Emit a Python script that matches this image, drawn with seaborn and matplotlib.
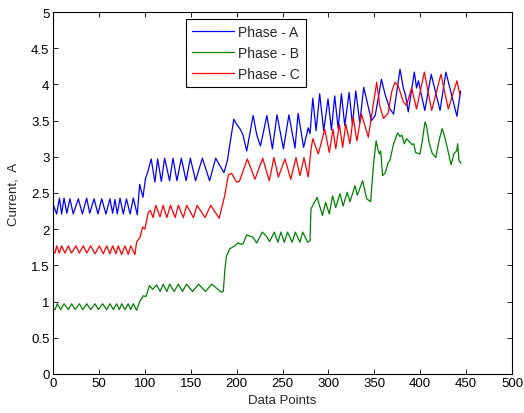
import matplotlib
matplotlib.use("Agg")
import matplotlib.pyplot as plt
import pandas as pd
import seaborn as sns

# ---- data (data point index, current in A) ----
phase_a = [(0,2.35),(4,2.21),(7,2.43),(9.4,2.21),(12,2.43),(15,2.22),(18.5,2.42),(22,2.21),
           (27.6,2.42),(32,2.21),(36.7,2.43),(40,2.22),(44.7,2.42),(49,2.21),(53,2.42),(57.7,2.21),
           (62,2.42),(65,2.22),(67.5,2.41),(70,2.21),(73,2.43),(76.6,2.21),(80,2.42),(84,2.21),
           (87.5,2.43),(91.8,2.2),(94.4,2.62),(98,2.44),(100.7,2.7),(103,2.78),(107,2.97),(111,2.65),
           (114,2.97),(118,2.66),(121.6,2.98),(127,2.67),(130.7,2.98),(135,2.67),(139.8,2.98),(145,2.67),
           (149.6,2.98),(155.3,2.67),(162.7,2.98),(170.6,2.67),(177.2,2.98),(186.2,2.78),(190,2.95),
           (193,3.2),(197,3.52),(200,3.45),(204,3.38),(207,3.3),(211,3.08),(218,3.57),(222,3.3),
           (226,3.15),(233,3.57),(239,3.11),(244,3.58),(251,3.11),(257,3.58),(263.6,3.12),(267,3.6),
           (273,3.13),(278,3.4),(280,3.32),(283,3.81),(286.6,3.36),(290.5,3.87),(294.9,3.36),(299.6,3.8),
           (303.3,3.37),(306.9,3.84),(310.6,3.39),(314.2,3.87),(317.8,3.43),(322.6,3.89),(326.2,3.44),
           (329.8,3.91),(334.2,3.47),(338.5,3.96),(346.9,3.5),(351,3.57),(357.8,4.07),(362,3.85),
           (367,3.66),(371,3.59),(378,4.21),(381.6,3.95),(384,3.85),(387,3.62),(393.6,4.17),(396,3.95),
           (398,4.05),(405,3.64),(412,4.14),(421.6,3.64),(428,4.17),(440,3.56),(444,3.91)]

phase_b = [(0,0.9),(2.2,0.89),(4.7,0.97),(8.3,0.89),(12,0.97),(16.7,0.89),(20.3,0.97),(24,0.89),
           (28.7,0.97),(32.3,0.89),(36.7,0.97),(41,0.89),(45.8,0.97),(49.4,0.89),(54,0.97),(58.5,0.89),
           (62,0.97),(65.7,0.89),(69.3,0.97),(72.3,0.89),(74.8,0.97),(78.4,0.89),(82,0.97),(84.6,0.89),
           (87.5,0.97),(91,0.88),(94.8,1.01),(98.4,1.08),(101.3,1.07),(105,1.22),(108.6,1.17),(113,1.23),
           (116.6,1.14),(120,1.24),(124,1.14),(127,1.24),(132,1.14),(136.5,1.24),(141,1.14),(145.5,1.24),
           (152,1.14),(158.6,1.24),(166,1.14),(173,1.24),(183.3,1.13),(185.5,1.14),(187.3,1.45),
           (189,1.63),(192.6,1.73),(198,1.77),(201.6,1.81),(205,1.79),(207,1.8),(211,1.92),(217.6,1.89),
           (222,1.81),(228,1.96),(232,1.91),(236,1.83),(241,1.96),(245,1.82),(248.3,1.96),(252,1.82),
           (255.5,1.96),(260.5,1.82),(264,1.96),(269,1.82),(272,1.96),(277.5,1.82),(280,1.84),(281,2.28),
           (287.7,2.44),(293.5,2.19),(297,2.37),(301,2.21),(304.5,2.46),(308,2.3),(312.6,2.49),(316,2.32),
           (320.5,2.51),(323.5,2.38),(329,2.6),(331.5,2.47),(337.3,2.67),(341.7,2.42),(346,2.38),
           (349,2.88),(352,3.22),(354,3.1),(355.5,3.04),(357,3.08),(359,2.74),(362,2.78),(365,2.92),
           (367,2.95),(371,3.18),(375.4,3.33),(378,3.28),(380,3.3),(382.7,3.18),(385.3,3.25),(388,3.21),
           (390.7,3.17),(393,3.18),(395,3.06),(399.8,3.04),(402,3.2),(405.2,3.48),(407,3.42),(409.6,3.2),
           (413,3.05),(417,2.99),(421,3.25),(424,3.39),(427,3.26),(430,3.1),(433.6,2.89),(437,3.05),
           (439.7,3.08),(440.8,3.18),(442.3,2.95),(444.4,2.91)]

phase_c = [(0,1.70),(2.2,1.67),(4,1.77),(6.9,1.67),(9.4,1.77),(13,1.67),(16.7,1.77),(20,1.67),
           (25,1.77),(28.7,1.67),(33,1.77),(36.7,1.67),(41,1.77),(45.8,1.66),(50.5,1.77),(54.8,1.66),
           (58.5,1.77),(62,1.66),(65,1.77),(68.6,1.66),(71,1.77),(74.8,1.65),(78.4,1.77),(82,1.65),
           (84.6,1.77),(89.3,1.65),(91,1.82),(94.8,1.89),(97.7,2.03),(100,2.0),(103.8,2.23),(106,2.26),
           (109,2.16),(112,2.33),(116.6,2.17),(120,2.33),(124,2.16),(128,2.33),(133,2.16),(136.5,2.33),
           (142,2.16),(145.6,2.33),(153,2.16),(157,2.33),(165.6,2.16),(171.8,2.33),(181,2.15),(187,2.46),
           (191,2.75),(194.6,2.77),(200,2.65),(203,2.66),(211.7,2.97),(220,2.69),(228.4,2.98),
           (235.6,2.67),(240.7,2.99),(245.5,2.72),(252.7,2.97),(259,2.69),(264.7,2.99),(269,2.74),
           (273.4,2.99),(278,2.72),(281,3.1),(283,3.25),(289,3.04),(296,3.38),(301,3.06),(305,3.38),
           (308,3.11),(312,3.45),(315.5,3.13),(319,3.45),(323.5,3.18),(327,3.55),(331,3.22),(336,3.59),
           (343.5,3.27),(352.6,4.03),(356,3.7),(360,3.53),(365,3.6),(369,3.9),(372.5,4.03),(376,3.98),
           (381.6,3.76),(385,3.71),(390.7,3.95),(396,3.66),(404.5,4.17),(412.5,3.64),(422.6,4.14),
           (430.6,3.66),(440,4.05),(443.4,3.85)]

series_names = ["Phase - A", "Phase - B", "Phase - C"]
series_colors = ["#0000ff", "#008000", "#ff0000"]
x_ticks = [0, 50, 100, 150, 200, 250, 300, 350, 400, 450, 500]
y_ticks = [0, 0.5, 1, 1.5, 2, 2.5, 3, 3.5, 4, 4.5, 5]
y_tick_labels = ["0", "0.5", "1", "1.5", "2", "2.5", "3", "3.5", "4", "4.5", "5"]
x_label = "Data Points"
y_label = "Current,  A"

frames = []
for name, pts in zip(series_names, [phase_a, phase_b, phase_c]):
    df = pd.DataFrame(pts, columns=["x", "y"])
    df["series"] = name
    frames.append(df)
data = pd.concat(frames, ignore_index=True)

sns.set_theme(style="ticks")
plt.rcParams["font.family"] = ["Liberation Sans", "DejaVu Sans"]
plt.rcParams["axes.edgecolor"] = "black"
plt.rcParams["xtick.color"] = "black"
plt.rcParams["ytick.color"] = "black"

fig = plt.figure(figsize=(5.24, 4.14), dpi=100)
ax = fig.add_axes([53 / 524, 39 / 414, 459 / 524, 362 / 414])

sns.lineplot(data=data, x="x", y="y", hue="series", hue_order=series_names,
             palette=dict(zip(series_names, series_colors)), estimator=None,
             sort=False, linewidth=0.9, ax=ax)

ax.set_xlim(0, 500)
ax.set_ylim(0, 5)
ax.set_xticks(x_ticks)
ax.set_xticklabels([str(t) for t in x_ticks])
ax.set_yticks(y_ticks)
ax.set_yticklabels(y_tick_labels)
ax.tick_params(direction="in", top=True, right=True, length=3.5, width=0.6,
               labelsize=9.5, pad=2.5, colors="black")
for s in ax.spines.values():
    s.set_visible(True)
    s.set_color("black")
    s.set_linewidth(0.8)
ax.set_xlabel(x_label, fontsize=9.5, labelpad=3)
ax.set_ylabel(y_label, fontsize=9.5, labelpad=8)

handles, labels = ax.get_legend_handles_labels()
if ax.get_legend() is not None:
    ax.get_legend().remove()
leg = ax.legend(handles, labels, loc="upper left",
                bbox_to_anchor=(186 / 524, 1 - 20 / 414), bbox_transform=fig.transFigure,
                borderaxespad=0, frameon=True, fancybox=False, framealpha=1,
                edgecolor="black", fontsize=10, handlelength=3.0, handletextpad=0.3,
                labelspacing=0.5, borderpad=0.45)
leg.get_frame().set_linewidth(0.8)

fig.savefig("out.png", dpi=100)
